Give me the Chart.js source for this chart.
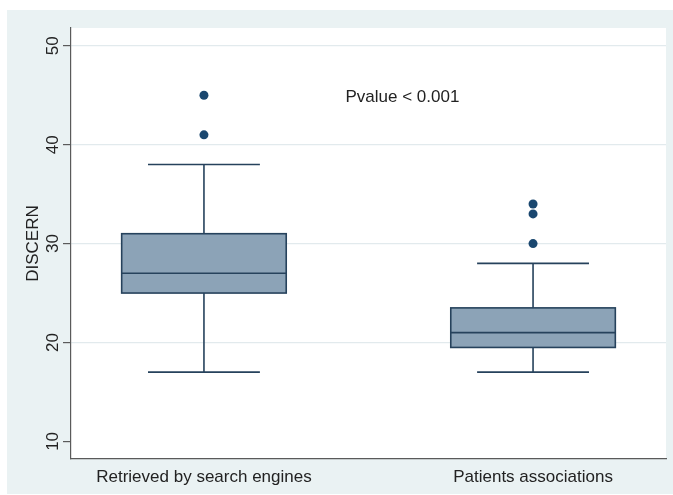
<!DOCTYPE html>
<html>
<head>
<meta charset="utf-8">
<script src="https://cdn.jsdelivr.net/npm/chart.js@4/dist/chart.umd.min.js"></script>
<style>
  html, body { margin: 0; padding: 0; background: #ffffff; }
  canvas { display: block; }
</style>
</head>
<body>
<canvas id="c" width="673" height="495"></canvas>
<script>
// Groups and their box-plot summaries (DISCERN score)
const categories = ['Retrieved by search engines', 'Patients associations'];
const whiskerLow  = [17, 17];
const quartile1   = [25, 19.5];
const medians     = [27, 21];
const quartile3   = [31, 23.5];
const whiskerHigh = [38, 28];
const outliers    = [[41, 45], [30, 33, 34]];

const yTicks = [10, 20, 30, 40, 50];
const annotationText = 'Pvalue < 0.001';
const annotationPos = { x: 1.43, y: 44.8 };

const NAVY = 'rgb(26,71,111)';
const LINE = 'rgb(38,66,92)';
const FILL = 'rgb(140,163,183)';
const BG = 'rgb(234,242,243)';
const GRID = 'rgb(226,234,237)';
const AXIS = '#5a5a5a';
const FONT = "'Liberation Sans', Arial, sans-serif";

const outlierPoints = [];
outliers.forEach((list, i) => list.forEach(v => outlierPoints.push({ x: i + 1, y: v })));

// Page and plot-region backgrounds
const backgroundPlugin = {
  id: 'backgrounds',
  beforeDraw(chart) {
    const { ctx, chartArea } = chart;
    ctx.save();
    ctx.fillStyle = '#ffffff';
    ctx.fillRect(0, 0, chart.width, chart.height);
    ctx.fillStyle = BG;
    ctx.fillRect(7, 10, chart.width - 7, 484);
    ctx.fillStyle = '#ffffff';
    ctx.fillRect(chartArea.left, chartArea.top, chartArea.right - chartArea.left, chartArea.bottom - chartArea.top);
    ctx.restore();
  }
};

// Boxes, medians and whiskers drawn from the summary arrays via the chart scales
const boxPlotPlugin = {
  id: 'boxes',
  beforeDatasetsDraw(chart) {
    const { ctx, scales: { x, y } } = chart;
    const halfBox = 0.25, halfCap = 0.17;
    ctx.save();
    ctx.lineWidth = 1.6;
    ctx.strokeStyle = LINE;
    categories.forEach((_, i) => {
      const c = i + 1;
      const xc = x.getPixelForValue(c);
      const xl = x.getPixelForValue(c - halfBox);
      const xr = x.getPixelForValue(c + halfBox);
      const cl = x.getPixelForValue(c - halfCap);
      const cr = x.getPixelForValue(c + halfCap);
      const yq1 = y.getPixelForValue(quartile1[i]);
      const yq3 = y.getPixelForValue(quartile3[i]);
      const ymed = y.getPixelForValue(medians[i]);
      const ylo = y.getPixelForValue(whiskerLow[i]);
      const yhi = y.getPixelForValue(whiskerHigh[i]);

      ctx.beginPath();
      ctx.moveTo(xc, yq3); ctx.lineTo(xc, yhi);
      ctx.moveTo(cl, yhi); ctx.lineTo(cr, yhi);
      ctx.moveTo(xc, yq1); ctx.lineTo(xc, ylo);
      ctx.moveTo(cl, ylo); ctx.lineTo(cr, ylo);
      ctx.stroke();

      ctx.fillStyle = FILL;
      ctx.fillRect(xl, yq3, xr - xl, yq1 - yq3);
      ctx.strokeRect(xl, yq3, xr - xl, yq1 - yq3);

      ctx.beginPath();
      ctx.moveTo(xl, ymed); ctx.lineTo(xr, ymed);
      ctx.stroke();
    });
    ctx.restore();
  },
  afterDatasetsDraw(chart) {
    const { ctx, scales: { x, y } } = chart;
    ctx.save();
    ctx.font = '17px ' + FONT;
    ctx.fillStyle = '#222222';
    ctx.textAlign = 'left';
    ctx.textBaseline = 'middle';
    ctx.fillText(annotationText, x.getPixelForValue(annotationPos.x), y.getPixelForValue(annotationPos.y));
    ctx.restore();
  }
};

new Chart(document.getElementById('c'), {
  type: 'scatter',
  data: {
    datasets: [{
      data: outlierPoints,
      pointRadius: 4.5,
      pointHoverRadius: 4.5,
      pointBackgroundColor: NAVY,
      pointBorderColor: NAVY,
      pointBorderWidth: 0
    }]
  },
  options: {
    responsive: false,
    animation: false,
    devicePixelRatio: 1,
    layout: { padding: { left: 0, right: 7, top: 28, bottom: 0 } },
    plugins: { legend: { display: false }, tooltip: { enabled: false } },
    scales: {
      x: {
        type: 'linear',
        min: 0.596,
        max: 2.404,
        afterBuildTicks(scale) { scale.ticks = categories.map((_, i) => ({ value: i + 1 })); },
        afterFit(scale) { scale.height = 36; },
        grid: { display: false, drawTicks: false },
        border: { display: true, color: AXIS, width: 1.2 },
        ticks: {
          padding: 8,
          color: '#222222',
          font: { family: FONT, size: 17 },
          maxRotation: 0,
          callback: (v) => categories[Math.round(v) - 1] || ''
        }
      },
      y: {
        type: 'linear',
        min: 8.22,
        max: 51.8,
        afterBuildTicks(scale) { scale.ticks = yTicks.map(v => ({ value: v })); },
        afterFit(scale) { scale.width = 71; },
        grid: {
          color: (c) => (c.tick && c.tick.value === 10) ? 'rgba(0,0,0,0)' : GRID,
          tickColor: AXIS,
          tickLength: 8,
          lineWidth: 1.2
        },
        border: { display: true, color: AXIS, width: 1.2 },
        title: {
          display: true,
          text: 'DISCERN',
          color: '#222222',
          font: { family: FONT, size: 17 },
          padding: { top: 23, bottom: 0 }
        },
        ticks: {
          minRotation: 90,
          maxRotation: 90,
          crossAlign: 'center',
          padding: 0,
          color: '#222222',
          font: { family: FONT, size: 17 }
        }
      }
    }
  },
  plugins: [backgroundPlugin, boxPlotPlugin]
});
</script>
</body>
</html>
